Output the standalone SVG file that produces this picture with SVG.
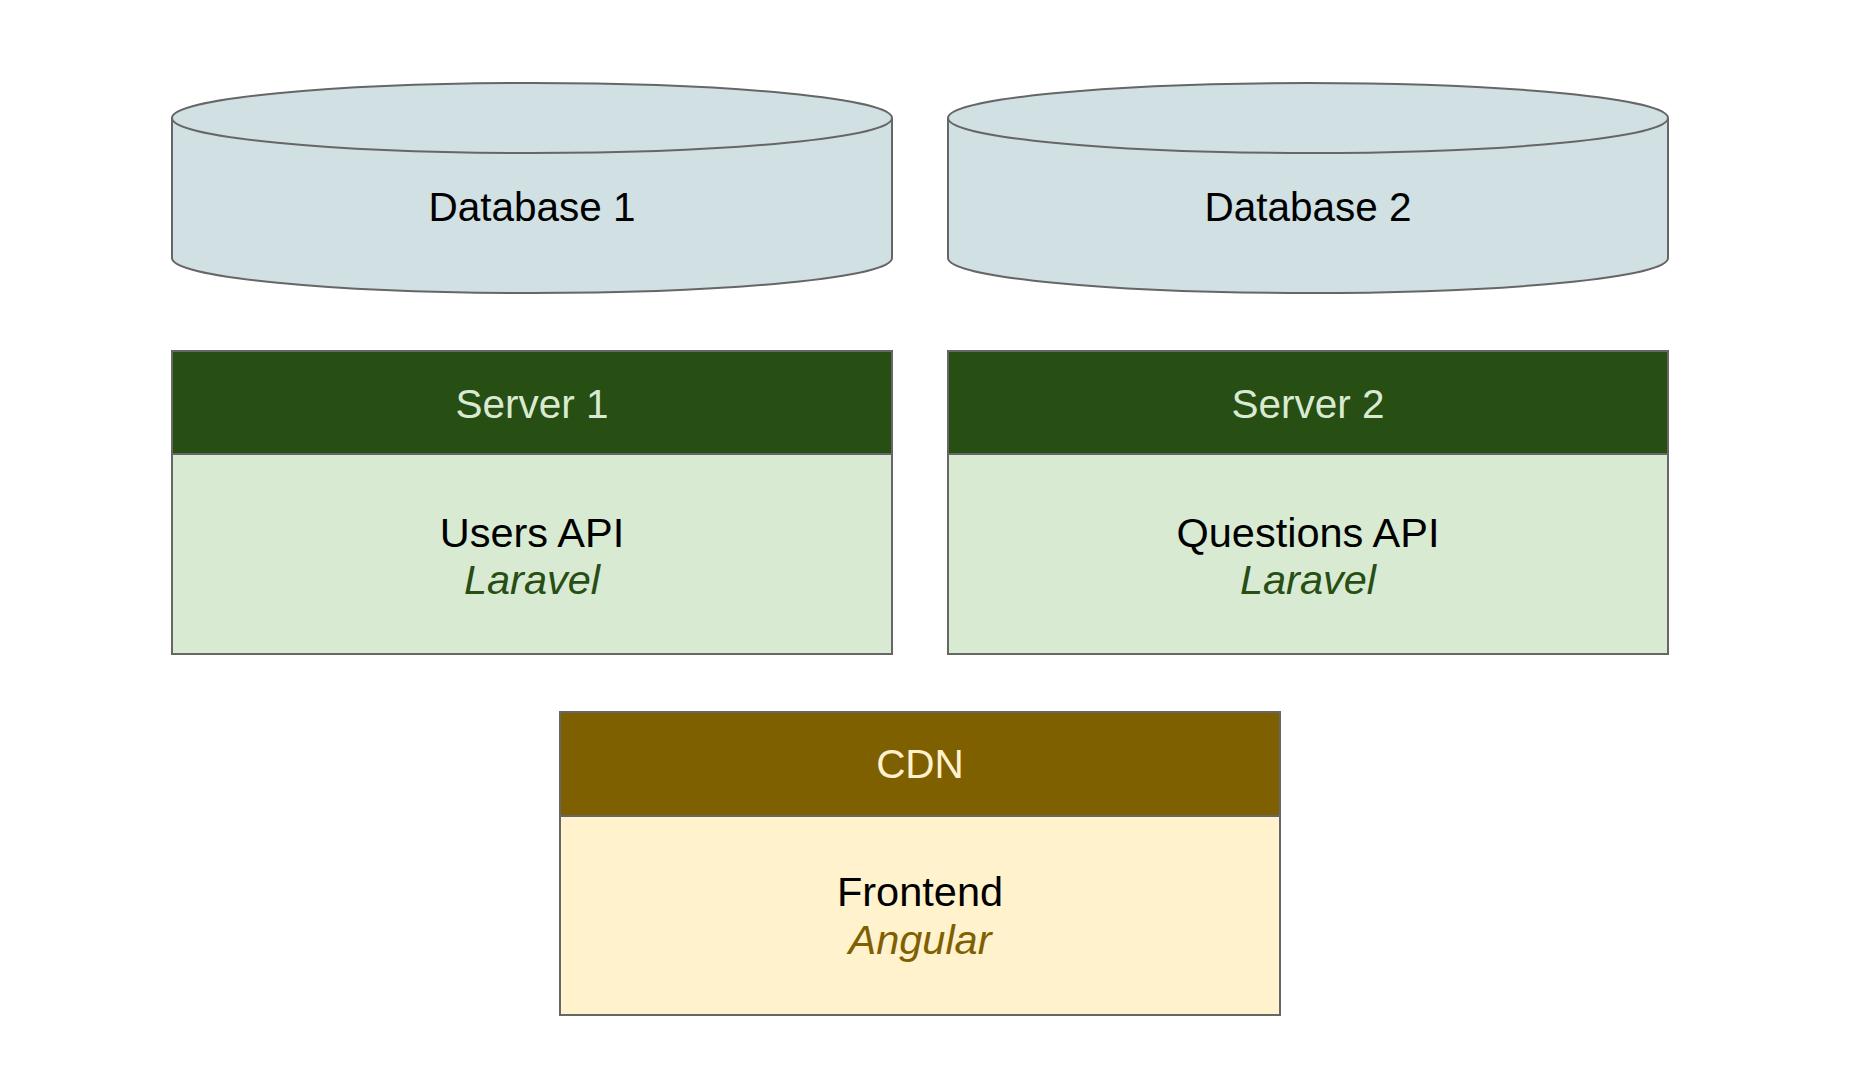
<svg xmlns="http://www.w3.org/2000/svg" width="1858" height="1084" viewBox="0 0 1858 1084">
<style>
.edge{stroke:#666666;stroke-width:2}
.db{fill:#d0e0e3}
.t{font-family:"Liberation Sans",Arial,sans-serif;font-size:41.5px;text-anchor:middle}
.h{font-size:40.5px}
.b{fill:#000000}
.i{font-style:italic}
</style>
<rect x="0" y="0" width="1858" height="1084" fill="#ffffff"/>
<g id="database-1">
<path class="db edge" d="M172,118 L172,258 A360,35 0 0 0 892,258 L892,118 A360,35 0 0 0 172,118 Z"/>
<path class="edge" fill="none" d="M172,118 A360,35 0 0 0 892,118"/>
<text class="t h b" x="532" y="221">Database 1</text>
</g>
<g id="database-2">
<path class="db edge" d="M948,118 L948,258 A360,35 0 0 0 1668,258 L1668,118 A360,35 0 0 0 948,118 Z"/>
<path class="edge" fill="none" d="M948,118 A360,35 0 0 0 1668,118"/>
<text class="t h b" x="1308" y="221">Database 2</text>
</g>
<g id="server-1">
<rect class="edge" x="172" y="454" width="720" height="200" fill="#d9ead3"/>
<rect class="edge" x="172" y="351" width="720" height="103" fill="#274e13"/>
<text class="t h" x="532" y="418" fill="#d9ead3">Server 1</text>
<text class="t b" x="532" y="547">Users API</text>
<text class="t i" x="532" y="594" fill="#274e13">Laravel</text>
</g>
<g id="server-2">
<rect class="edge" x="948" y="454" width="720" height="200" fill="#d9ead3"/>
<rect class="edge" x="948" y="351" width="720" height="103" fill="#274e13"/>
<text class="t h" x="1308" y="418" fill="#d9ead3">Server 2</text>
<text class="t b" x="1308" y="547">Questions API</text>
<text class="t i" x="1308" y="594" fill="#274e13">Laravel</text>
</g>
<g id="cdn">
<rect class="edge" x="560" y="816" width="720" height="199" fill="#fff2cc"/>
<rect class="edge" x="560" y="712" width="720" height="104" fill="#7f6000"/>
<text class="t h" x="920" y="778" fill="#fff2cc">CDN</text>
<text class="t b" x="920" y="906">Frontend</text>
<text class="t i" x="920" y="954" fill="#7f6000">Angular</text>
</g>
<g id="connectors"></g>
</svg>
